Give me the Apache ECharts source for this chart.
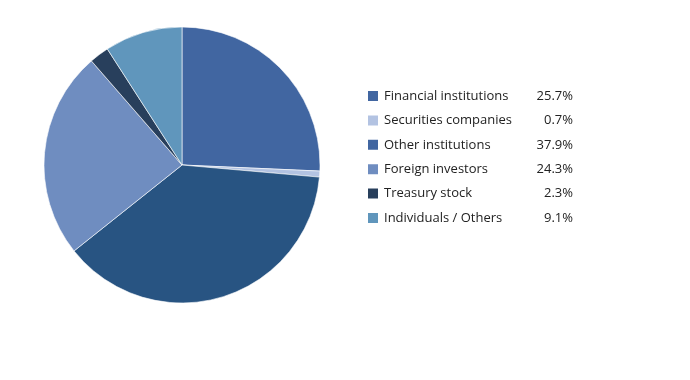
<!DOCTYPE html>
<html><head><meta charset="utf-8">
<script src="https://cdn.jsdelivr.net/npm/echarts@6/dist/echarts.min.js"></script>
<style>html,body{margin:0;padding:0;background:#fff}#c{width:690px;height:380px}</style>
</head><body><div id="c"></div>
<script>
var categories = ["Financial institutions","Securities companies","Other institutions","Foreign investors","Treasury stock","Individuals / Others"];
var values = [25.7, 0.7, 37.9, 24.3, 2.3, 9.1];
var sliceColors = ["#4166A1","#B3C3E2","#285482","#6F8DC0","#283F5C","#6096BC"];
var legendColors = ["#4166A1","#B3C3E2","#4166A1","#6F8DC0","#283F5C","#6096BC"];

var chart = echarts.init(document.getElementById('c'), null, {renderer:'canvas'});
var valMap = {};
categories.forEach(function(c,i){valMap[c]=values[i];});
chart.setOption({
  animation:false,
  legend:{
    orient:'vertical', left:366, top:89, padding:0,
    itemWidth:12, itemHeight:12, itemGap:10.4, icon:'rect',
    data: categories.map(function(c,i){return {name:c, itemStyle:{color:legendColors[i]}};}),
    formatter:function(n){return '{a|'+n+'}{b|'+valMap[n].toFixed(1)+'%}';},
    textStyle:{
      fontFamily:'Open Sans', fontSize:13, color:'#222', lineHeight:14,
      rich:{
        a:{width:141, fontFamily:'Open Sans', fontSize:13, color:'#222', lineHeight:14},
        b:{width:48, align:'right', fontFamily:'Open Sans', fontSize:13, color:'#222', lineHeight:14}
      }
    }
  },
  series:[{
    type:'pie', center:[182,165], radius:138, startAngle:90, clockwise:true,
    label:{show:false}, labelLine:{show:false},
    itemStyle:{borderColor:'#fff', borderWidth:0.6},
    emphasis:{disabled:true},
    data: categories.map(function(c,i){return {name:c, value:values[i], itemStyle:{color:sliceColors[i]}};})
  }]
});
</script></body></html>
